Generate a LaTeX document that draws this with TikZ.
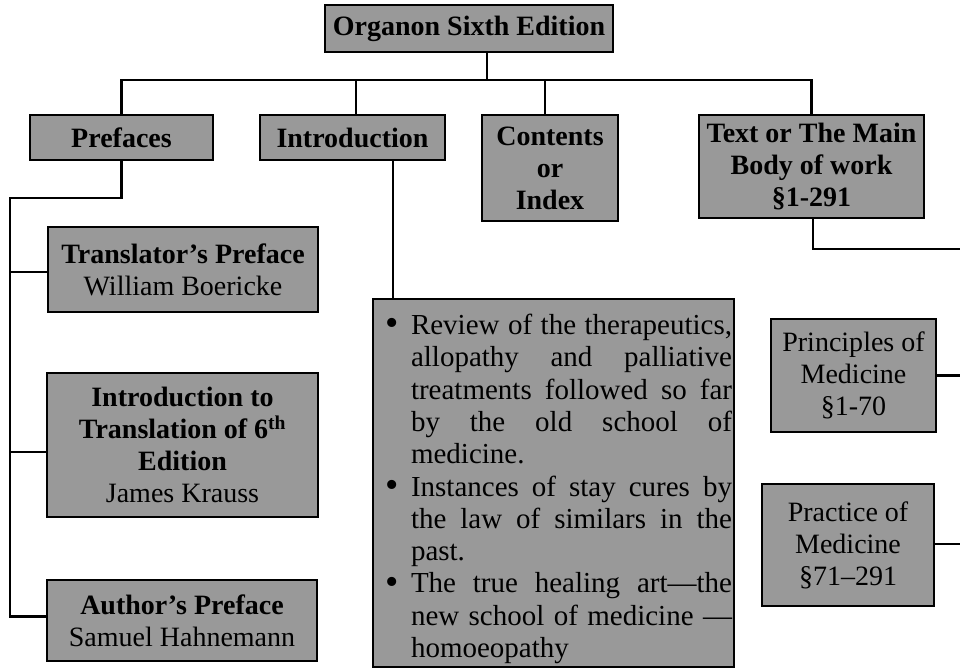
\documentclass[tikz,border=0pt]{standalone}
\usepackage{fontspec}
\setmainfont{Liberation Serif}
\usepackage{enumitem}
\usepackage{tikz}

\definecolor{boxgray}{RGB}{153,153,153}
\newcommand{\boxfont}{\fontsize{28}{32}\selectfont}
\newcommand{\listfont}{\fontsize{29}{32.3}\selectfont}
\newcommand{\bigdot}{\raisebox{-0.05em}{\fontsize{38}{38}\selectfont\textbullet}}

\begin{document}
\begin{tikzpicture}[x=1pt, y=-1pt,
    every node/.style={rectangle, draw, line width=2.2pt, fill=boxgray,
        align=center, inner sep=2pt, font=\boxfont},
    link/.style={draw, line width=2.2pt},
    head/.style={font=\boxfont\bfseries}
    ]
    \useasboundingbox (0,0) rectangle (960,669);

    % Root node
    \node[head, minimum width=288pt, minimum height=47pt] (root) at (469,28.5) {Organon Sixth Edition};

    % First level
    \node[head, minimum width=183pt, minimum height=45pt] (pref) at (121.5,137.5) {Prefaces};
    \node[head, minimum width=185pt, minimum height=45pt] (intro) at (352.5,137.5) {Introduction};
    \node[head, minimum width=136pt, minimum height=106pt] (cont) at (550,168) {Contents\\or\\Index};
    \node[head, minimum width=225pt, minimum height=103pt] (text) at (811.5,166.5) {Text or The Main\\Body of work\\§1-291};

    % Prefaces
    \node[minimum width=270pt, minimum height=85pt] (trans) at (183,269.5)
        {\textbf{Translator’s Preface}\\William Boericke};
    \node[minimum width=271pt, minimum height=144pt] (introtr) at (182.5,445)
        {\textbf{Introduction to}\\\textbf{Translation of 6\textsuperscript{th}}\\\textbf{Edition}\\James Krauss};
    \node[minimum width=270pt, minimum height=81pt] (auth) at (182,620.5)
        {\textbf{Author’s Preface}\\Samuel Hahnemann};

    % Introduction
    \node[minimum width=361pt, minimum height=368pt, text width=357pt, align=justify, font=\listfont] (bull) at (553.5,483) {%
        \begin{itemize}[label=\bigdot, leftmargin=36pt, labelsep=12pt, topsep=0pt, itemsep=0pt, parsep=0pt, partopsep=0pt]
        \item Review of the therapeutics,\linebreak allopathy and palliative\linebreak
              treatments followed so far\linebreak by the old school of\linebreak medicine.
        \item Instances of stay cures by\linebreak the law of similars in the\linebreak past.
        \item The true healing art—the\linebreak new school of medicine —\linebreak homoeopathy
        \end{itemize}};

    % Text or the main body
    \node[minimum width=165pt, minimum height=113pt] (princ) at (853.5,375.5) {Principles of\\Medicine\\§1-70};
    \node[minimum width=172pt, minimum height=122pt] (pract) at (848,545) {Practice of\\Medicine\\§71–291};

    % Connectors
    \coordinate (hub) at (487,80);
    \coordinate (lft) at (10,198);
    \coordinate (rgt) at (960,249);
    \draw[link] (root.south -| hub) -- (hub);
    \draw[link] (pref.north) |- (text.north |- hub) -- (text.north);
    \draw[link] ([xshift=3.5pt]intro.north |- hub) -- ([xshift=3.5pt]intro.north);
    \draw[link] ([xshift=-5pt]cont.north |- hub) -- ([xshift=-5pt]cont.north);
    \draw[link] (pref.south) |- (lft) |- ([yshift=4pt]auth.west);
    \draw[link] (lft |- trans.west) ++(0,2.5) -- ([yshift=-2.5pt]trans.west);
    \draw[link] (lft |- introtr.west) ++(0,7) -- ([yshift=-7pt]introtr.west);
    \draw[link] ([xshift=40.5pt]intro.south) -- ([xshift=40.5pt]intro.south |- bull.north);
    \draw[link] ([xshift=1.5pt]text.south) |- (rgt);
    \draw[link] (princ.east) -- (princ.east -| rgt);
    \draw[link] ([yshift=1pt]pract.east) -- ([yshift=1pt]pract.east -| rgt);
\end{tikzpicture}
\end{document}
